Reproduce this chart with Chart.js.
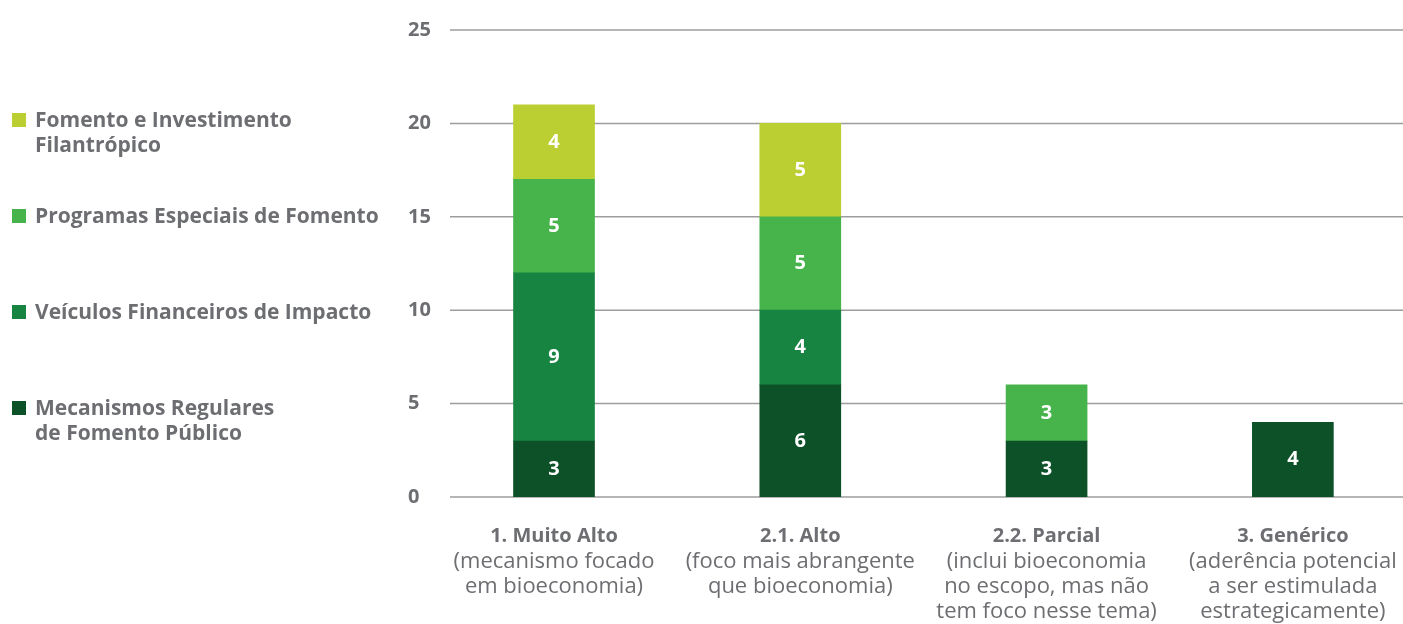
<!DOCTYPE html>
<html>
<head>
<meta charset="utf-8">
<script src="https://cdn.jsdelivr.net/npm/chart.js@4"></script>
<style>
  html, body { margin: 0; padding: 0; background: #fff; overflow: hidden; }
  #wrap { position: absolute; left: 0; top: 0; width: 1416px; height: 624px; }
  #legend { position: absolute; left: 0; top: 0; width: 400px; height: 624px; font-family: "Open Sans", sans-serif; }
  .item { position: absolute; left: 12px; display: flex; align-items: flex-start; }
  .sw { width: 14px; height: 14px; margin-top: 6px; margin-right: 9px; flex: none; }
  .txt { font-size: 21px; font-weight: 700; line-height: 25px; color: #6d6e71; white-space: nowrap; }
</style>
</head>
<body>
<div id="wrap"><canvas id="chart"></canvas></div>
<div id="legend"></div>
<script>
const categories = ['1. Muito Alto', '2.1. Alto', '2.2. Parcial', '3. Genérico'];
const descriptions = [
    ['(mecanismo focado', 'em bioeconomia)'],
    ['(foco mais abrangente', 'que bioeconomia)'],
    ['(inclui bioeconomia', 'no escopo, mas não', 'tem foco nesse tema)'],
    ['(aderência potencial', 'a ser estimulada', 'estrategicamente)'],
];

const mecanismos = [3, 6, 3, 4];
const veiculos = [9, 4, null, null];
const programas = [5, 5, 3, null];
const fomento = [4, 5, null, null];

const yTicks = [0, 5, 10, 15, 20, 25];

const grey = '#6d6e71';

// legend, top to bottom
const legendItems = [
    { lines: ['Fomento e Investimento', 'Filantrópico'], color: '#bccf32' },
    { lines: ['Programas Especiais de Fomento'], color: '#46b34b' },
    { lines: ['Veículos Financeiros de Impacto'], color: '#188442' },
    { lines: ['Mecanismos Regulares', 'de Fomento Público'], color: '#0d5129' },
];
const legendTops = [107, 203, 299, 395];

const legendEl = document.getElementById('legend');
legendItems.forEach((it, i) => {
    const d = document.createElement('div');
    d.className = 'item';
    d.style.top = legendTops[i] + 'px';
    d.innerHTML = '<div class="sw" style="background:' + it.color + '"></div><div class="txt">' + it.lines.join('<br>') + '</div>';
    legendEl.appendChild(d);
});

const gridPlugin = {
    id: 'grid',
    beforeDatasetsDraw(chart) {
        const ctx = chart.ctx;
        const y = chart.scales.y;
        ctx.save();
        ctx.strokeStyle = '#9d9d9d';
        ctx.lineWidth = 1.5;
        yTicks.forEach(v => {
            const py = y.getPixelForValue(v);
            ctx.beginPath();
            ctx.moveTo(450, py);
            ctx.lineTo(chart.chartArea.right, py);
            ctx.stroke();
        });
        ctx.restore();
    }
};

const valuePlugin = {
    id: 'values',
    afterDatasetsDraw(chart) {
        const ctx = chart.ctx;
        ctx.save();
        ctx.fillStyle = '#fff';
        ctx.font = 'bold 20px "Open Sans"';
        ctx.textAlign = 'center';
        ctx.textBaseline = 'middle';
        chart.data.datasets.forEach((ds, di) => {
            chart.getDatasetMeta(di).data.forEach((bar, i) => {
                const v = ds.data[i];
                if (!v) return;
                ctx.fillText(v, bar.x, (bar.y + bar.base) / 2);
            });
        });
        ctx.restore();
    }
};

const noGrid = { display: false, drawTicks: false };

const chart = new Chart(document.getElementById('chart').getContext('2d'), {
    type: 'bar',
    data: {
        labels: categories,
        datasets: [
            { label: 'Mecanismos Regulares de Fomento Público', data: mecanismos, backgroundColor: '#0d5129' },
            { label: 'Veículos Financeiros de Impacto', data: veiculos, backgroundColor: '#188442' },
            { label: 'Programas Especiais de Fomento', data: programas, backgroundColor: '#46b34b' },
            { label: 'Fomento e Investimento Filantrópico', data: fomento, backgroundColor: '#bccf32' },
        ],
    },
    options: {
        responsive: true,
        maintainAspectRatio: false,
        animation: false,
        layout: { padding: { left: 408, top: 30, right: 0, bottom: 0 } },
        datasets: { bar: { barThickness: 81 } },
        scales: {
            x: {
                stacked: true,
                grid: noGrid,
                border: { display: false },
                ticks: {
                    color: grey,
                    padding: 0,
                    maxRotation: 0,
                    autoSkip: false,
                    // blank first line pushes the title down without a doubled padding
                    callback: (v, i) => ['', categories[i]],
                    font: { family: 'Open Sans', size: 20, weight: 'bold', lineHeight: '26px' },
                },
            },
            x2: {
                type: 'category',
                position: 'bottom',
                labels: descriptions,
                grid: noGrid,
                border: { display: false },
                ticks: {
                    color: grey,
                    padding: 0,
                    maxRotation: 0,
                    autoSkip: false,
                    font: { family: 'Open Sans', size: 22, weight: 400, lineHeight: '25px' },
                },
            },
            y: {
                stacked: true,
                min: 0,
                max: 25,
                grid: noGrid,
                border: { display: false },
                ticks: {
                    stepSize: 5,
                    crossAlign: 'far',
                    padding: 0,
                    color: grey,
                    font: { family: 'Open Sans', size: 20, weight: 'bold' },
                },
            },
        },
        plugins: {
            legend: { display: false },
            tooltip: { enabled: false },
        },
    },
    plugins: [gridPlugin, valuePlugin],
});
</script>
</body>
</html>
